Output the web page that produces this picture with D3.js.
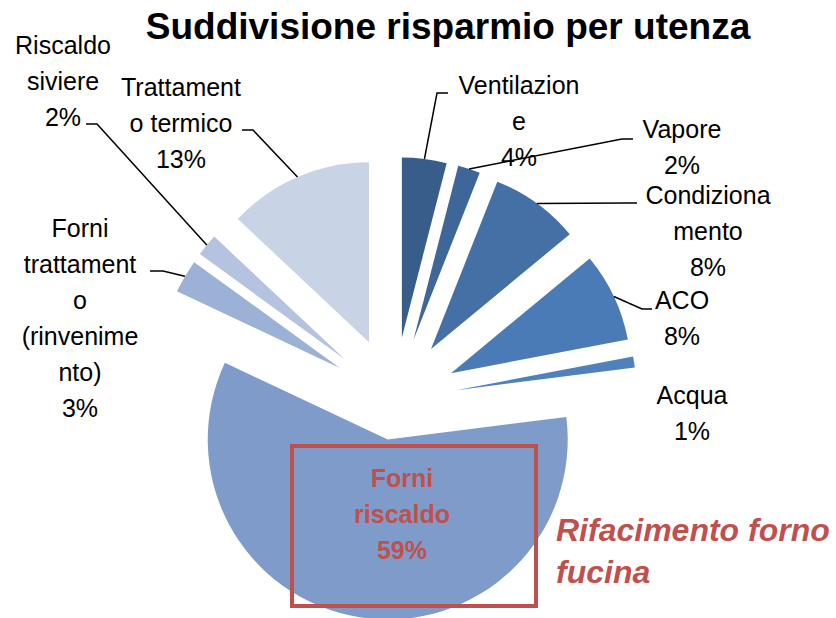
<!DOCTYPE html>
<html>
<head>
<meta charset="utf-8">
<script src="https://cdn.jsdelivr.net/npm/d3@7"></script>
<style>
  body { margin: 0; background: #fff; }
  svg { display: block; font-family: "Liberation Sans", Arial, sans-serif; }
</style>
</head>
<body>
<svg id="chart" width="836" height="618"></svg>
<script>
// dati: utenze e percentuale di risparmio
const categories = ["Ventilazione", "Vapore", "Condizionamento", "ACO", "Acqua",
  "Forni riscaldo", "Forni trattamento (rinvenimento)", "Riscaldo siviere", "Trattamento termico"];
const values = [4, 2, 8, 8, 1, 59, 3, 2, 13];
// righe delle etichette, come spezzate nel grafico originale
const labelLines = [
  ["Ventilazion", "e"],
  ["Vapore"],
  ["Condiziona", "mento"],
  ["ACO"],
  ["Acqua"],
  ["Forni", "riscaldo"],
  ["Forni", "trattament", "o", "(rinvenime", "nto)"],
  ["Riscaldo", "siviere"],
  ["Trattament", "o termico"]
];
const colors = ["#385d8a", "#3e6698", "#4470a5", "#4a7bb6", "#4f81bd",
  "#7e9bc9", "#9cb1d6", "#b4c3df", "#c9d3e6"];

// --- layout ---
const cx = 394, cy = 400, radius = 180;
const explode = [63, 63, 63, 63, 63, 40, 63, 63, 63];
// posizione del centro della prima riga dell'etichetta + gomito della linea guida
const labelPos = [
  { x: 519, y: 85, elbow: [[448, 93], [437, 93]] },
  { x: 682, y: 129, elbow: [[633, 139], [622, 139]] },
  { x: 708, y: 195, elbow: [[637, 203], [627, 203]] },
  { x: 682, y: 300, elbow: [[652, 309], [642, 309]] },
  { x: 692, y: 395, elbow: null },
  { x: 402, y: 478, elbow: null },
  { x: 80, y: 228, elbow: [[150, 271], [163, 271]] },
  { x: 63, y: 45, elbow: [[86, 124], [97, 124]] },
  { x: 181, y: 87, elbow: [[242, 130], [253, 130]] }
];
const lineH = 36;
const red = "#c0504d";

const svg = d3.select("#chart");

// titolo
svg.append("text")
  .attr("x", 448).attr("y", 39)
  .attr("text-anchor", "middle")
  .attr("font-size", 37).attr("font-weight", "bold")
  .text("Suddivisione risparmio per utenza");

const data = categories.map((c, i) => ({ name: c, value: values[i], i }));
const pie = d3.pie().sort(null).value(d => d.value);
const arcs = pie(data);
const arc = d3.arc().innerRadius(0).outerRadius(radius);

function offsetOf(d) {
  const a = (d.startAngle + d.endAngle) / 2;
  const e = explode[d.data.i];
  return [cx + e * Math.sin(a), cy - e * Math.cos(a)];
}

// fette
svg.append("g").selectAll("path")
  .data(arcs)
  .enter().append("path")
  .attr("transform", d => `translate(${offsetOf(d)})`)
  .attr("d", arc)
  .attr("fill", d => colors[d.data.i]);

// linee guida
svg.append("g").selectAll("polyline")
  .data(arcs.filter(d => labelPos[d.data.i].elbow))
  .enter().append("polyline")
  .attr("points", d => {
    const o = offsetOf(d);
    const a = (d.startAngle + d.endAngle) / 2;
    const end = [o[0] + radius * Math.sin(a), o[1] - radius * Math.cos(a)];
    return labelPos[d.data.i].elbow.concat([end]).map(p => p.join(",")).join(" ");
  })
  .attr("fill", "none")
  .attr("stroke", "#000")
  .attr("stroke-width", 1.5);

// etichette
const labels = svg.append("g").selectAll("text")
  .data(arcs)
  .enter().append("text")
  .attr("text-anchor", "middle")
  .attr("font-size", 25)
  .attr("font-weight", d => d.data.i === 5 ? "bold" : null)
  .attr("fill", d => d.data.i === 5 ? red : "#000");

labels.selectAll("tspan")
  .data(d => labelLines[d.data.i].concat([d.data.value + "%"]).map(t => ({ t, i: d.data.i })))
  .enter().append("tspan")
  .attr("x", d => labelPos[d.i].x)
  .attr("y", (d, k) => labelPos[d.i].y + k * lineH + 9)
  .text(d => d.t);

// riquadro evidenziato
svg.append("rect")
  .attr("x", 292).attr("y", 446)
  .attr("width", 244).attr("height", 160)
  .attr("fill", "none")
  .attr("stroke", red)
  .attr("stroke-width", 4);

svg.append("text")
  .attr("font-size", 32).attr("font-weight", "bold").attr("font-style", "italic")
  .attr("fill", red)
  .selectAll("tspan")
  .data(["Rifacimento forno", "fucina"])
  .enter().append("tspan")
  .attr("x", 556)
  .attr("y", (d, k) => 541 + k * 42)
  .text(d => d);
</script>
</body>
</html>
